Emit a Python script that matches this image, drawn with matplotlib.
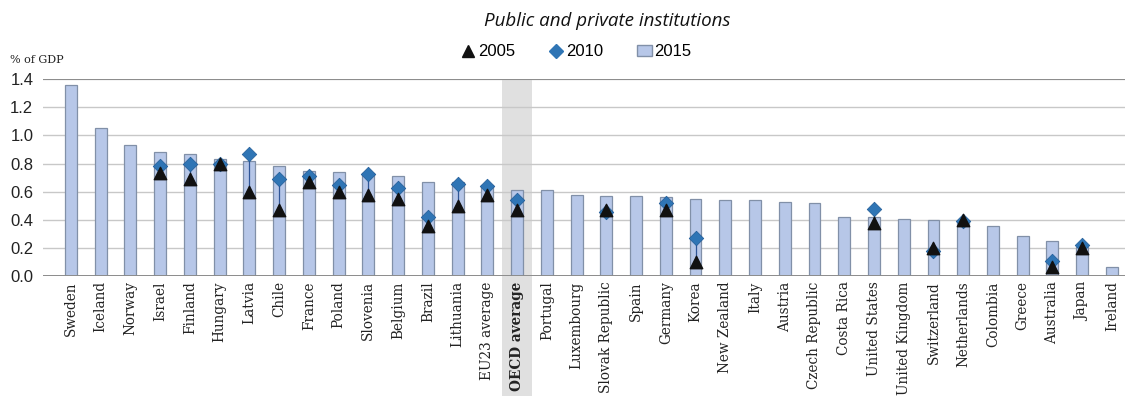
import matplotlib
matplotlib.use("Agg")
import matplotlib.pyplot as plt
from matplotlib.lines import Line2D
from matplotlib.patches import Patch
import numpy as np

countries = ["Sweden", "Iceland", "Norway", "Israel", "Finland", "Hungary", "Latvia",
             "Chile", "France", "Poland", "Slovenia", "Belgium", "Brazil", "Lithuania",
             "EU23 average", "OECD average", "Portugal", "Luxembourg", "Slovak Republic",
             "Spain", "Germany", "Korea", "New Zealand", "Italy", "Austria",
             "Czech Republic", "Costa Rica", "United States", "United Kingdom",
             "Switzerland", "Netherlands", "Colombia", "Greece", "Australia", "Japan",
             "Ireland"]
v2015 = [1.36, 1.05, 0.93, 0.88, 0.87, 0.83, 0.82, 0.78, 0.75, 0.74, 0.73, 0.71, 0.67,
         0.67, 0.65, 0.61, 0.61, 0.58, 0.57, 0.57, 0.56, 0.55, 0.54, 0.54, 0.53, 0.52,
         0.42, 0.42, 0.41, 0.40, 0.39, 0.36, 0.29, 0.25, 0.21, 0.07]
v2010 = [None, None, None, 0.78, 0.80, 0.80, 0.87, 0.69, 0.71, 0.645, 0.725, 0.63, 0.42,
         0.655, 0.64, 0.54, None, None, 0.46, None, 0.52, 0.27, None, None, None, None,
         None, 0.48, None, 0.18, 0.39, None, None, 0.11, 0.22, None]
v2005 = [None, None, None, 0.73, 0.69, 0.80, 0.60, 0.47, 0.67, 0.60, 0.58, 0.55, 0.36,
         0.50, 0.58, 0.47, None, None, 0.47, None, 0.47, 0.10, None, None, None, None,
         None, 0.38, None, 0.20, 0.40, None, None, 0.07, 0.20, None]

x = np.arange(len(countries))
bar_col = "#B7C7E8"
dia_col = "#2F75B5"

fig = plt.figure(figsize=(11.25, 3.96), dpi=100)
ax = fig.add_axes([0.0382, 0.302, 0.9618, 0.4985])

oecd = countries.index("OECD average")
band = ax.axvspan(oecd - 0.5, oecd + 0.5, ymin=-1.45, ymax=1.0, color="#E0E0E0",
                  zorder=0.3, lw=0)
band.set_clip_on(False)

ax.bar(x, v2015, width=0.4, color=bar_col, edgecolor="#8190A8", linewidth=0.9, zorder=2)

for i in x:
    a, b = v2005[i], v2010[i]
    if a is not None and b is not None:
        ax.vlines(i, min(a, b), max(a, b), color="#2F5597", lw=0.9, zorder=3)

xs5 = [i for i in x if v2005[i] is not None]
xs10 = [i for i in x if v2010[i] is not None]
ax.scatter(xs10, [v2010[i] for i in xs10], marker="D", s=55, color=dia_col,
           edgecolor="#1F5A96", linewidth=0.5, zorder=4)
ax.scatter(xs5, [v2005[i] for i in xs5], marker="^", s=80, color="#111111", zorder=5)

ax.set_ylim(0, 1.4)
ax.set_xlim(-0.94, 35.44)
ax.set_yticks(np.arange(0, 1.41, 0.2))
ax.set_yticklabels([f"{t:.1f}" for t in np.arange(0, 1.41, 0.2)],
                   fontsize=12, family="Liberation Sans", color="#222222")
ax.yaxis.grid(True, color="#C8C8C8", lw=1.0, zorder=0)
ax.set_axisbelow(True)
ax.axhline(1.4, color="#8C8C8C", lw=1.4, zorder=1)
ax.axhline(0, color="#8C8C8C", lw=1.4, zorder=3)
for s in ax.spines.values():
    s.set_visible(False)
ax.tick_params(axis="both", length=0)
ax.tick_params(axis="y", pad=7)

ax.set_xticks(x)
ax.set_xticklabels(countries, rotation=90, fontsize=9.8, family="DejaVu Serif",
                   color="#222222")
ax.get_xticklabels()[oecd].set_fontweight("bold")

fig.text(0.009, 0.842, "% of GDP", fontsize=8, family="DejaVu Serif", color="#222222")
fig.text(0.54, 0.948, "Public and private institutions", fontsize=13.5,
         style="italic", family="Open Sans", ha="center", va="center", color="#111111")

handles = [Line2D([], [], marker="^", color="#111111", ls="", markersize=8),
           Line2D([], [], marker="D", color=dia_col, ls="", markersize=7),
           Patch(facecolor=bar_col, edgecolor="#8190A8")]
fig.legend(handles, ["2005", "2010", "2015"], loc="center", bbox_to_anchor=(0.512, 0.869),
           ncol=3, frameon=False, handlelength=0.9, handletextpad=0.15,
           columnspacing=2.0, prop={"family": "Liberation Sans", "size": 12})

fig.savefig("out.png", dpi=100)
